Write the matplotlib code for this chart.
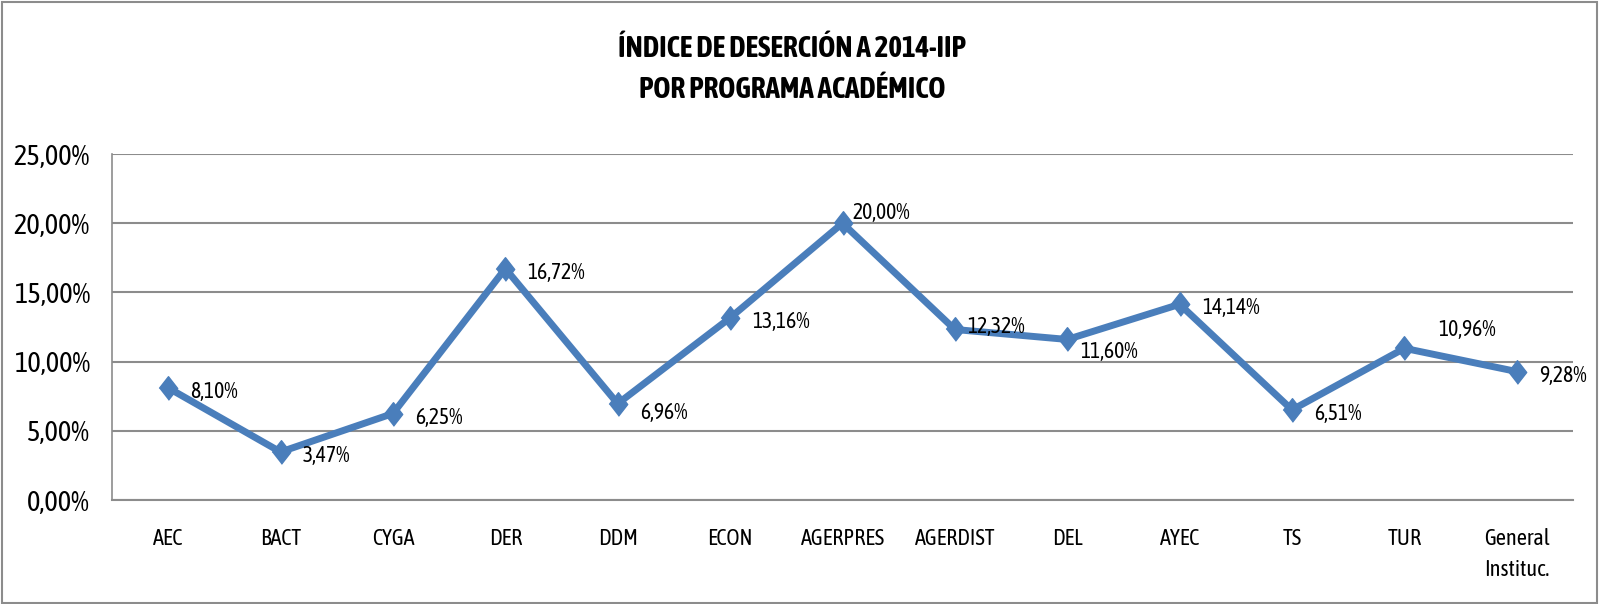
import matplotlib
matplotlib.use("Agg")
import matplotlib.pyplot as plt
from matplotlib.patches import Rectangle

plt.rcParams['font.family'] = ['Asap Condensed', 'DejaVu Sans']

# datos
programas = ['AEC', 'BACT', 'CYGA', 'DER', 'DDM', 'ECON', 'AGERPRES',
             'AGERDIST', 'DEL', 'AYEC', 'TS', 'TUR', 'General\nInstituc.']
desercion = [8.10, 3.47, 6.25, 16.72, 6.96, 13.16, 20.00,
             12.32, 11.60, 14.14, 6.51, 10.96, 9.28]
yticks = [0, 5, 10, 15, 20, 25]

titulo = 'ÍNDICE DE DESERCIÓN A 2014-IIP\nPOR PROGRAMA ACADÉMICO'

def fmt(v):
    return ('%.2f%%' % v).replace('.', ',')

# desplazamiento de etiquetas (puntos), por defecto a la derecha
off_default = (16, -3)
off_special = {6: (7, 7), 7: (9, 2), 8: (9, -9), 11: (24, 13), 4: (16, -7)}

fig = plt.figure(figsize=(15.99, 6.04), dpi=100)
ax = fig.add_axes([112/1599, 1-500/604, (1573-112)/1599, 346/604])

x = list(range(len(programas)))
diamante = [(0, -1), (0.78, 0), (0, 1), (-0.78, 0)]
ax.plot(x, desercion, color='#4A7EBB', lw=5, marker=diamante,
        markersize=17, markerfacecolor='#4A7EBB', markeredgecolor='#4A7EBB',
        solid_joinstyle='miter', zorder=3)

for i, v in enumerate(desercion):
    dx, dy = off_special.get(i, off_default)
    ax.annotate(fmt(v), (i, v), xytext=(dx, dy), textcoords='offset points',
                ha='left', va='center', fontsize=15.5, color='black', zorder=4)

ax.set_xlim(-0.5, len(programas) - 0.5)
ax.set_ylim(0, 25)
ax.set_yticks(yticks)
ax.set_yticklabels([fmt(t) for t in yticks], fontsize=20.5)
ax.set_xticks(x)
ax.set_xticklabels(programas, fontsize=16, linespacing=1.55, va='top')
ax.tick_params(axis='both', length=0)
ax.tick_params(axis='x', pad=20)
ax.tick_params(axis='y', pad=16)

ax.grid(axis='y', color='#8C8C8C', lw=1.5)
ax.set_axisbelow(True)
for s in ['top', 'right']:
    ax.spines[s].set_visible(False)
ax.spines['left'].set_color('#8C8C8C')
ax.spines['bottom'].set_color('#8C8C8C')
ax.spines['left'].set_linewidth(1.2)
ax.spines['bottom'].set_linewidth(1.5)

fig.text(792/1599, 1-69/604, titulo, ha='center', va='center',
         fontsize=21, fontweight='bold', linespacing=1.55)

fig.patches.append(Rectangle((0.001, 0.002), 0.998, 0.995, transform=fig.transFigure,
                             fill=False, edgecolor='#8C8C8C', lw=1.5))

fig.savefig('out.png', dpi=100)
